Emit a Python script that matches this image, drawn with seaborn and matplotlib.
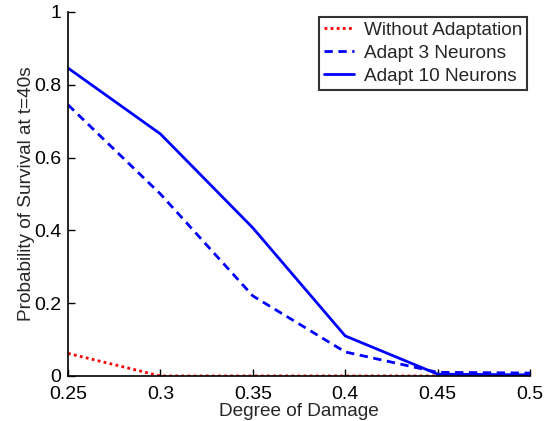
import matplotlib
matplotlib.use("Agg")
import matplotlib.pyplot as plt
import seaborn as sns
import pandas as pd

damage = [0.25, 0.30, 0.35, 0.40, 0.45, 0.50]
without_adapt = [0.062, 0.0, 0.0, 0.0, 0.0, 0.0]
adapt3 = [0.745, 0.50, 0.22, 0.066, 0.010, 0.008]
adapt10 = [0.846, 0.665, 0.407, 0.110, 0.005, 0.003]
series_names = ["Without Adaptation", "Adapt 3 Neurons", "Adapt 10 Neurons"]
xticks = [0.25, 0.3, 0.35, 0.4, 0.45, 0.5]
yticks = [0, 0.2, 0.4, 0.6, 0.8, 1]

sns.set_style("white", {"xtick.bottom": True, "ytick.left": True,
                        "xtick.direction": "in", "ytick.direction": "in"})
plt.rcParams['font.family'] = ['Liberation Sans', 'DejaVu Sans']
plt.rcParams['xtick.major.size'] = 5
plt.rcParams['ytick.major.size'] = 5
plt.rcParams['xtick.major.width'] = 1
plt.rcParams['ytick.major.width'] = 1

df = pd.DataFrame({
    "damage": damage * 3,
    "value": without_adapt + adapt3 + adapt10,
    "series": [series_names[0]] * 6 + [series_names[1]] * 6 + [series_names[2]] * 6,
})

fig = plt.figure(figsize=(5.55, 4.21), dpi=100)
ax = fig.add_axes([0.1225, 0.107, 0.8325, 0.8645])

styles = {series_names[0]: ((0, (1, 1.2)), "#ff0000"),
          series_names[1]: ((0, (3, 2)), "#0000ff"),
          series_names[2]: ("-", "#0000ff")}
for name in series_names:
    ls, c = styles[name]
    sns.lineplot(data=df[df.series == name], x="damage", y="value", ax=ax,
                 color=c, linestyle=ls, linewidth=2.0, label=name)

ax.set_xlim(0.25, 0.5)
ax.set_ylim(0, 1)
ax.set_xticks(xticks)
ax.set_xticklabels([f"{t:g}" for t in xticks])
ax.set_yticks(yticks)
ax.set_yticklabels([f"{t:g}" for t in yticks])
ax.tick_params(axis="x", bottom=True, direction="in", length=5, width=1,
               labelsize=14, colors="black", pad=7)
ax.tick_params(axis="y", left=True, direction="in", length=5, width=1,
               labelsize=14, colors="black", pad=5)
ax.set_xlabel("Degree of Damage", fontsize=13.7, labelpad=0)
ax.set_ylabel("Probability of Survival at t=40s", fontsize=13.7, labelpad=1)
ax.yaxis.set_label_coords(-0.072, 0.5)
for s in ["top", "right"]:
    ax.spines[s].set_visible(False)
for s in ["left", "bottom"]:
    ax.spines[s].set_color("black")
    ax.spines[s].set_linewidth(1.2)

leg = ax.legend(loc="upper right", fontsize=13.7, frameon=True, fancybox=False,
                edgecolor="black", handlelength=1.6, borderpad=0.25, labelspacing=0.3,
                handletextpad=0.5, borderaxespad=0,
                bbox_to_anchor=(527 / 555, (421 - 17) / 421), bbox_transform=fig.transFigure)
leg.get_frame().set_linewidth(1.5)

fig.savefig("out.png", dpi=100)
